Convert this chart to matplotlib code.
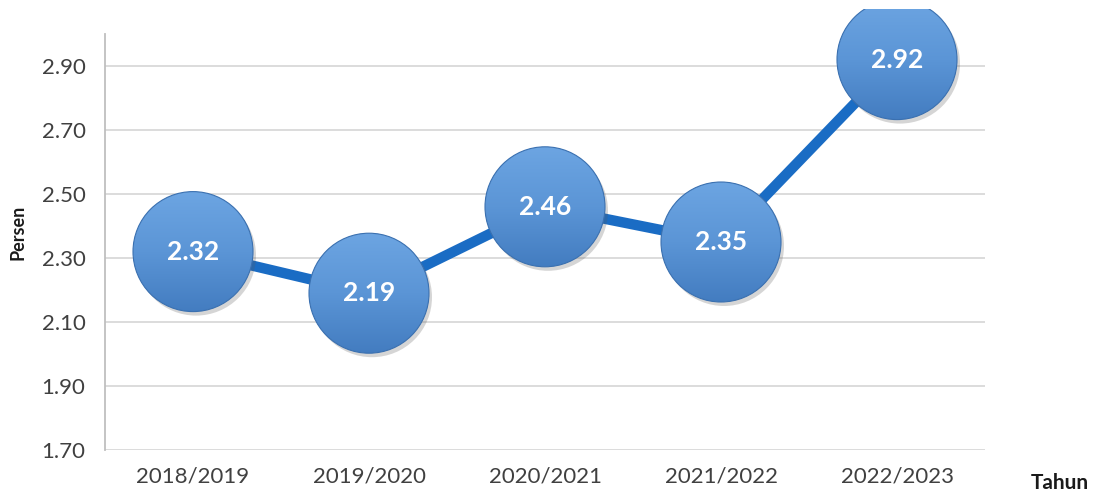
import numpy as np
import matplotlib
matplotlib.use("Agg")
import matplotlib.pyplot as plt
from matplotlib.patches import Circle
from matplotlib.transforms import ScaledTranslation, Bbox, TransformedBbox
from matplotlib.colors import LinearSegmentedColormap

categories = ["2018/2019", "2019/2020", "2020/2021", "2021/2022", "2022/2023"]
values = [2.32, 2.19, 2.46, 2.35, 2.92]
yticks = [1.70, 1.90, 2.10, 2.30, 2.50, 2.70, 2.90]

plt.rcParams['font.family'] = ['Lato', 'DejaVu Sans']

fig = plt.figure(figsize=(10.96, 4.97), dpi=100)
ax = fig.add_axes([105/1096, 47/497, 880/1096, 416/497])

x = np.arange(len(categories))
ax.plot(x, values, color="#1a6cc4", lw=7.5, solid_capstyle="round", zorder=3)

ax.set_xlim(-0.5, len(categories) - 0.5)
ax.set_ylim(1.70, 3.00)
ax.set_yticks(yticks)
ax.set_yticklabels([f"{v:.2f}" for v in yticks], fontsize=16, color="#404040")
ax.set_xticks(x)
ax.set_xticklabels(categories, fontsize=16, color="#404040")
ax.tick_params(length=0, pad=12)
ax.tick_params(axis="y", pad=14)
ax.grid(axis="y", color="#d9d9d9", lw=1.3, zorder=0)
for s in ["top", "right", "bottom"]:
    ax.spines[s].set_visible(False)
ax.spines["left"].set_color("#bfbfbf")
ax.spines["left"].set_linewidth(1.3)

# visible region: whole figure except a thin white strip at the top
clipbox = TransformedBbox(Bbox([[0, 0], [1, 1 - 9/497]]), fig.transFigure)

cmap = LinearSegmentedColormap.from_list("g", ["#3b74b9", "#5b95d6", "#72aae6"])
grad = np.linspace(0, 1, 256).reshape(-1, 1)
r_in = 0.60  # inches
for xi, yi in zip(x, values):
    off = ScaledTranslation(xi, yi, ax.transData)
    shadow = Circle((0.03, -0.04), r_in, transform=fig.dpi_scale_trans + off,
                    facecolor="#5a5a5a", alpha=0.25, edgecolor="none", zorder=4)
    ax.add_patch(shadow)
    shadow.set_clip_box(clipbox)
    circ = Circle((0, 0), r_in, transform=fig.dpi_scale_trans + off,
                  facecolor="none", edgecolor="#3a70b0", lw=0.8, zorder=6)
    ax.add_patch(circ)
    circ.set_clip_box(clipbox)
    im = ax.imshow(grad, cmap=cmap, origin="lower", aspect="auto",
                   extent=(xi - 0.45, xi + 0.45, yi - 0.25, yi + 0.25),
                   zorder=5, interpolation="bilinear")
    im.set_clip_box(clipbox)
    im.set_clip_path(circ)
    ax.text(xi, yi, f"{yi:.2f}", ha="center", va="center", color="white",
            fontsize=19, fontweight="bold", zorder=7)

ax.set_xlim(-0.5, len(categories) - 0.5)
ax.set_ylim(1.70, 3.00)

fig.text(18/1096, 1 - 232/497, "Persen", rotation=90, ha="center", va="center",
         fontsize=13, fontweight="bold", color="#1a1a1a")
fig.text(1060/1096, 1 - 483/497, "Tahun", ha="center", va="center",
         fontsize=15, fontweight="bold", color="#1a1a1a")

fig.savefig("out.png", dpi=100)
